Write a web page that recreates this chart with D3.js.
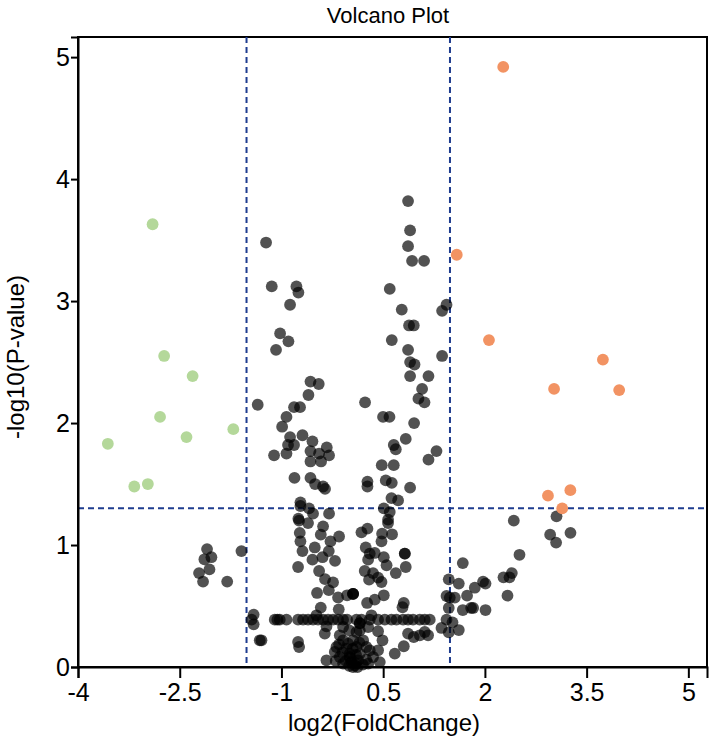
<!DOCTYPE html>
<html>
<head>
<meta charset="utf-8">
<script src="https://cdn.jsdelivr.net/npm/d3@7"></script>
<style>
  body { margin: 0; background: #fff; }
  svg { display: block; font-family: "Liberation Sans", Arial, sans-serif; }
</style>
</head>
<body>
<svg id="chart" width="709" height="744"></svg>
<script>
"use strict";

// log2 fold change / -log10 p thresholds
const fcCut = [-1.515, 1.485];
const pCut = 1.301;

const xTicks = [-4, -2.5, -1, 0.5, 2, 3.5, 5];
const yTicks = [0, 1, 2, 3, 4, 5];

// significant, down-regulated [log2FC, -log10 p]
const downPts = [
    [-2.90, 3.63], [-2.73, 2.55], [-2.31, 2.385], [-2.79, 2.05], [-1.71, 1.95],
    [-3.56, 1.83], [-2.40, 1.885], [-3.17, 1.48], [-2.97, 1.50]
];

// significant, up-regulated
const upPts = [
    [2.27, 4.92], [1.585, 3.38], [2.06, 2.68], [3.74, 2.52], [3.02, 2.28],
    [3.98, 2.27], [2.93, 1.405], [3.26, 1.45], [3.14, 1.30]
];

// not significant
const nsPts = [
    [0.867, 3.82], [0.897, 3.58], [-1.227, 3.48], [0.867, 3.45], [0.926, 3.33], [1.103, 3.33],
    [-1.143, 3.12], [-0.779, 3.12], [-0.75, 3.07], [0.597, 3.10], [-0.873, 2.97], [0.774, 2.93],
    [1.434, 2.97], [1.369, 2.92], [0.882, 2.80], [0.951, 2.80], [-1.02, 2.735], [-0.897, 2.67],
    [-1.08, 2.60], [0.627, 2.68], [0.867, 2.60], [1.369, 2.55], [0.897, 2.50], [0.962, 2.48],
    [0.897, 2.385], [1.168, 2.385], [1.074, 2.28], [-0.572, 2.34], [-0.45, 2.32], [-0.602, 2.23],
    [1.02, 2.20], [1.109, 2.17], [-1.35, 2.15], [0.233, 2.17], [-0.814, 2.13], [-0.726, 2.13],
    [-0.926, 2.05], [0.498, 2.05], [0.593, 2.05], [-0.99, 1.97], [0.956, 2.0], [-0.69, 1.90],
    [-0.873, 1.885], [-0.543, 1.85], [0.833, 1.87], [-0.903, 1.82], [-0.814, 1.82], [-0.332, 1.80],
    [0.656, 1.82], [0.686, 1.785], [-1.109, 1.735], [-0.926, 1.75], [-0.572, 1.77], [-0.445, 1.75],
    [-0.298, 1.735], [1.286, 1.77], [1.168, 1.70], [-0.572, 1.685], [-0.416, 1.685], [0.479, 1.655],
    [0.656, 1.655], [-0.808, 1.55], [-0.572, 1.55], [-0.504, 1.50], [-0.386, 1.48], [-0.357, 1.46],
    [0.268, 1.52], [0.268, 1.48], [0.538, 1.53], [0.627, 1.51], [0.897, 1.47], [0.622, 1.385],
    [0.72, 1.366], [-0.72, 1.35], [-0.72, 1.32], [-0.593, 1.30], [-0.534, 1.257], [-0.298, 1.257],
    [0.509, 1.30], [0.597, 1.27], [-0.75, 1.216], [0.572, 1.208],
    // middle, below the p cut
    [-0.74, 1.20], [-0.608, 1.18], [-0.386, 1.153], [-0.73, 1.10], [-0.72, 1.03], [-0.42, 1.085],
    [-0.277, 1.03], [-0.15, 1.07], [-0.509, 0.98], [-0.302, 0.95], [-0.69, 0.95], [-0.543, 0.88],
    [-0.395, 0.90], [-0.21, 0.87], [-0.755, 0.82], [-0.445, 0.787], [-0.357, 0.72], [-0.239, 0.694],
    [-0.475, 0.607], [-0.302, 0.63], [-0.165, 0.57], [-0.032, 0.588], [0.056, 0.60], [0.056, 0.60],
    [0.056, 0.60], [-0.42, 0.487], [-0.155, 0.473], [-0.361, 0.274], [-0.755, 0.205], [-0.74, 0.164],
    [-0.15, 0.186], [-0.336, 0.055], [-1.295, 0.219],
    [0.18, 1.104], [0.268, 1.134], [0.572, 1.18], [0.631, 1.088], [0.484, 1.093], [0.475, 1.03],
    [0.243, 0.98], [0.302, 0.93], [0.376, 0.935], [0.509, 0.90], [0.819, 0.93], [0.819, 0.93],
    [0.278, 0.88], [0.55, 0.834], [0.686, 0.77], [0.833, 0.82], [0.228, 0.787], [0.351, 0.77],
    [0.292, 0.716], [0.425, 0.733], [0.475, 0.697], [0.509, 0.588], [0.376, 0.552], [0.263, 0.525],
    [0.327, 0.424], [0.155, 0.36], [0.804, 0.525], [0.785, 0.49], [0.155, 0.30], [0.278, 0.328],
    [0.425, 0.293], [0.867, 0.274], [0.951, 0.246], [1.04, 0.26], [1.113, 0.287], [1.162, 0.26],
    [0.804, 0.17], [0.671, 0.11], [0.49, 0.219], [0.425, 0.137], [0.351, 0.082], [0.007, 0.082],
    [0.106, 0.164], [0.204, 0.219], [-0.091, 0.328],
    // bottom of the volcano
    [-0.091, 0.219], [-0.041, 0.15], [0.007, 0.11], [0.032, 0.04], [0.081, 0.014], [0.13, 0.055],
    [0.155, 0.11], [0.253, 0.164], [0.302, 0.137], [-0.14, 0.082], [-0.091, 0.028], [-0.189, 0.164],
    [-0.214, 0.123], [-0.018, 0.192], [0.155, 0.358], [0.106, 0.287], [0.056, 0.219], [-0.484, 0.424],
    [-0.336, 0.333], [-0.14, 0.26], [0.45, 0.04], [0.28, 0.028], [0.056, 0.0], [0.0, 0.01], [0.1, 0.03],
    [-0.1, 0.12], [0.0, 0.3], [0.05, 0.15], [0.1, 0.1], [0.2, 0.02], [-0.05, 0.05], [0.15, 0.2],
    [-0.2, 0.05], [0.25, 0.06], [0.02, 0.07], [0.12, 0.0],
    // the row at p = 0.41
    [-1.099, 0.388], [-1.025, 0.388], [-0.926, 0.388], [-0.755, 0.388], [-0.681, 0.388], [-0.608, 0.388],
    [-0.534, 0.388], [-0.46, 0.388], [-0.386, 0.388], [-0.313, 0.388], [-0.239, 0.388], [-0.165, 0.388],
    [-0.091, 0.388], [-0.032, 0.388], [0.106, 0.388], [0.18, 0.388], [0.302, 0.388], [0.425, 0.388],
    [0.524, 0.388], [0.622, 0.388], [0.696, 0.388], [0.794, 0.388], [0.867, 0.388], [0.941, 0.388],
    [1.04, 0.388], [1.113, 0.388], [1.187, 0.388],
    // left group
    [-2.097, 0.967], [-2.136, 0.883], [-2.033, 0.90], [-2.062, 0.80], [-2.215, 0.77], [-2.156, 0.70],
    [-1.80, 0.70], [-1.59, 0.95], [-1.41, 0.43], [-1.44, 0.388], [-1.41, 0.35], [-1.32, 0.219],
    [-1.06, 0.388],
    // right group
    [2.426, 1.20], [3.056, 1.235], [2.962, 1.085], [3.262, 1.10], [3.05, 1.02], [2.51, 0.92],
    [1.674, 0.852], [2.397, 0.77], [2.274, 0.735], [2.363, 0.735], [1.467, 0.719], [1.615, 0.684],
    [1.973, 0.70], [2.009, 0.684], [1.851, 0.65], [2.333, 0.585], [1.434, 0.582], [1.482, 0.569],
    [1.556, 0.569], [1.737, 0.585], [1.467, 0.484], [1.674, 0.467], [1.797, 0.484], [1.826, 0.484],
    [2.009, 0.467], [1.434, 0.388], [1.522, 0.366], [1.36, 0.32], [1.615, 0.303], [1.467, 0.284]
];

const colors = { ns: "#000", down: "#b4d89a", up: "#f29363", cut: "#1e3c8f" };

const svg = d3.select("#chart");
const box = { left: 78, right: 707, top: 37, bottom: 667 };

const x = d3.scaleLinear().domain([-4, 5.275]).range([box.left, box.right]);
const y = d3.scaleLinear().domain([0, 5.165]).range([box.bottom, box.top]);

// frame
svg.append("rect")
    .attr("x", box.left).attr("y", box.top)
    .attr("width", box.right - box.left).attr("height", box.bottom - box.top)
    .attr("fill", "none").attr("stroke", "#000").attr("stroke-width", 2);

// threshold lines
const cuts = svg.append("g")
    .attr("stroke", colors.cut).attr("stroke-width", 2)
    .attr("stroke-dasharray", "6,4");
cuts.selectAll("line.v").data(fcCut).enter().append("line")
    .attr("x1", d => x(d)).attr("x2", d => x(d))
    .attr("y1", box.top).attr("y2", box.bottom);
cuts.append("line")
    .attr("x1", box.left).attr("x2", box.right)
    .attr("y1", y(pCut)).attr("y2", y(pCut));

// points
function dots(data, fill, opacity) {
    svg.append("g").selectAll("circle")
        .data(data).enter().append("circle")
        .attr("cx", d => x(d[0]))
        .attr("cy", d => y(d[1]))
        .attr("r", 5.9)
        .attr("fill", fill)
        .attr("fill-opacity", opacity);
}
dots(nsPts, colors.ns, 0.68);
dots(downPts, colors.down, 1);
dots(upPts, colors.up, 1);

// axes
const xAxis = svg.append("g")
    .attr("transform", `translate(0,${box.bottom})`)
    .call(d3.axisBottom(x).tickValues(xTicks).tickSize(11).tickPadding(5).tickFormat(d => d));
const yAxis = svg.append("g")
    .attr("transform", `translate(${box.left},0)`)
    .call(d3.axisLeft(y).tickValues(yTicks).tickSize(7).tickPadding(1).tickFormat(d => d));
[xAxis, yAxis].forEach(a => {
    a.select(".domain").attr("stroke-width", 2);
    a.selectAll(".tick line").attr("stroke-width", 2);
    a.selectAll("text").attr("font-size", 25).attr("font-family", null);
});

// titles
svg.append("text")
    .attr("x", 388).attr("y", 23)
    .attr("text-anchor", "middle").attr("font-size", 22)
    .text("Volcano Plot");
svg.append("text")
    .attr("x", 384).attr("y", 731)
    .attr("text-anchor", "middle").attr("font-size", 24)
    .text("log2(FoldChange)");
svg.append("text")
    .attr("transform", "translate(24,357) rotate(-90)")
    .attr("text-anchor", "middle").attr("font-size", 24)
    .text("-log10(P-value)");
</script>
</body>
</html>
